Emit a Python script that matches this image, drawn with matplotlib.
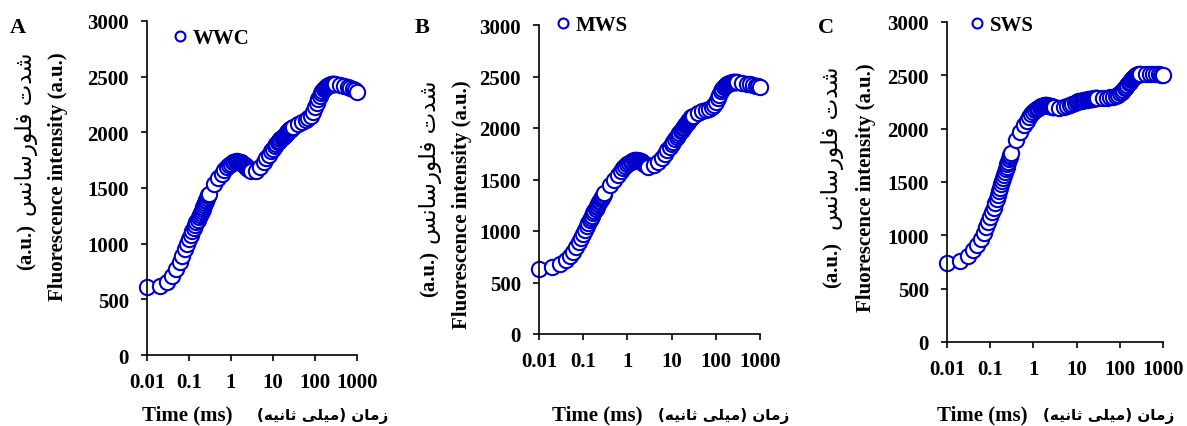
import matplotlib
matplotlib.use("Agg")
import matplotlib.pyplot as plt

# time points (ms) of the fast fluorescence record
time_ms = [0.01, 0.02, 0.03, 0.04, 0.05, 0.06, 0.07, 0.08, 0.09, 0.10,
           0.11, 0.12, 0.13, 0.14, 0.15, 0.16, 0.17, 0.18, 0.19, 0.20,
           0.21, 0.22, 0.23, 0.24, 0.25, 0.26, 0.27, 0.28, 0.29, 0.30,
           0.4, 0.5, 0.6, 0.7, 0.8, 0.9, 1.0, 1.1, 1.2, 1.3, 1.4, 1.5, 1.6, 1.7,
           1.8, 1.9, 2.0, 2.1, 2.2, 2.3, 2.4, 2.5, 2.6, 2.7, 2.8, 2.9, 3.0,
           4, 5, 6, 7, 8, 9, 10, 11, 12, 13, 14, 15, 16, 17, 18, 19, 20,
           21, 22, 23, 24, 25, 26, 27, 28, 29, 30,
           40, 50, 60, 70, 80, 90, 100, 110, 120, 130, 140, 150, 160, 170,
           180, 190, 200, 210, 220, 230, 240, 250, 260, 270, 280, 290, 300,
           400, 500, 600, 700, 800, 900, 1000]

wwc = [610, 620, 660, 712, 770, 832, 890, 948, 998, 1042,
       1080, 1112, 1142, 1168, 1192, 1215, 1237, 1258, 1278, 1296,
       1314, 1331, 1348, 1364, 1380, 1395, 1410, 1424, 1437, 1450,
       1535, 1590, 1630, 1660, 1685, 1705, 1720, 1730, 1737, 1740, 1740, 1738, 1735, 1730,
       1725, 1718, 1711, 1704, 1697, 1690, 1684, 1678, 1673, 1668, 1664, 1660, 1657,
       1650, 1690, 1730, 1768, 1800, 1828, 1852, 1873, 1892, 1909, 1924, 1938, 1950, 1961,
       1971, 1980, 1989, 1997, 2004, 2011, 2017, 2023, 2029, 2034, 2039, 2043, 2047,
       2075, 2095, 2110, 2125, 2150, 2185, 2225, 2265, 2300, 2330, 2355, 2373, 2387, 2398,
       2406, 2413, 2418, 2422, 2425, 2428, 2430, 2432, 2433, 2434, 2435, 2435, 2435,
       2425, 2418, 2410, 2400, 2390, 2378, 2365]

mws = [627, 650, 680, 715, 755, 800, 845, 890, 935, 975,
       1012, 1045, 1075, 1102, 1127, 1150, 1172, 1192, 1211, 1229,
       1246, 1262, 1277, 1292, 1306, 1319, 1332, 1344, 1355, 1365,
       1445, 1500, 1545, 1580, 1610, 1632, 1650, 1664, 1674, 1681, 1686, 1688, 1688, 1687,
       1684, 1680, 1675, 1670, 1664, 1658, 1652, 1647, 1642, 1637, 1633, 1629, 1626,
       1636, 1670, 1710, 1748, 1782, 1812, 1840, 1866, 1890, 1912, 1932, 1951, 1968, 1984,
       1999, 2013, 2026, 2038, 2050, 2060, 2070, 2079, 2088, 2096, 2104, 2111, 2118,
       2150, 2165, 2175, 2185, 2200, 2225, 2255, 2290, 2325, 2355, 2378, 2395, 2408, 2418,
       2426, 2432, 2436, 2439, 2441, 2443, 2444, 2445, 2445, 2445, 2445, 2444, 2444,
       2435, 2430, 2424, 2418, 2411, 2403, 2396]

sws = [741, 756, 806, 858, 912, 968, 1023, 1075, 1125, 1172,
       1217, 1260, 1301, 1340, 1377, 1412, 1446, 1478, 1508, 1537,
       1565, 1592, 1618, 1643, 1667, 1690, 1712, 1734, 1755, 1775,
       1890, 1970, 2030, 2075, 2108, 2135, 2155, 2172, 2185, 2195, 2203, 2209, 2213, 2216,
       2218, 2219, 2219, 2218, 2217, 2215, 2213, 2211, 2209, 2207, 2205, 2203, 2202,
       2198, 2205, 2215, 2225, 2235, 2243, 2250, 2255, 2259, 2263, 2266, 2269, 2271, 2273,
       2275, 2277, 2278, 2279, 2280, 2281, 2282, 2283, 2284, 2285, 2286, 2287, 2288,
       2290, 2292, 2295, 2300, 2308, 2318, 2330, 2345, 2360, 2378, 2395, 2412, 2428, 2442,
       2455, 2466, 2475, 2483, 2490, 2495, 2499, 2503, 2506, 2508, 2510, 2511, 2512,
       2515, 2515, 2513, 2511, 2508, 2504, 2500]

panels = ["A", "B", "C"]
series_names = ["WWC", "MWS", "SWS"]
x_ticks = [0.01, 0.1, 1, 10, 100, 1000]
x_ticklabels = ["0.01", "0.1", "1", "10", "100", "1000"]
y_ticks = [0, 500, 1000, 1500, 2000, 2500, 3000]

# Arabic letter forms: isolated, final, initial, medial
FORMS = {
    "ا": ("\uFE8D", "\uFE8E", None, None),
    "ت": ("\uFE95", "\uFE96", "\uFE97", "\uFE98"),
    "ث": ("\uFE99", "\uFE9A", "\uFE9B", "\uFE9C"),
    "د": ("\uFEA9", "\uFEAA", None, None),
    "ر": ("\uFEAD", "\uFEAE", None, None),
    "ز": ("\uFEAF", "\uFEB0", None, None),
    "س": ("\uFEB1", "\uFEB2", "\uFEB3", "\uFEB4"),
    "ش": ("\uFEB5", "\uFEB6", "\uFEB7", "\uFEB8"),
    "ف": ("\uFED1", "\uFED2", "\uFED3", "\uFED4"),
    "ل": ("\uFEDD", "\uFEDE", "\uFEDF", "\uFEE0"),
    "م": ("\uFEE1", "\uFEE2", "\uFEE3", "\uFEE4"),
    "ن": ("\uFEE5", "\uFEE6", "\uFEE7", "\uFEE8"),
    "ه": ("\uFEE9", "\uFEEA", "\uFEEB", "\uFEEC"),
    "و": ("\uFEED", "\uFEEE", None, None),
    "ی": ("\uFBFC", "\uFBFD", "\uFBFE", "\uFBFF"),
}


def farsi(s):
    # shape letters and put them in visual (left to right) order
    out = []
    for i, ch in enumerate(s):
        if ch not in FORMS:
            out.append(ch)
            continue
        prev = s[i - 1] if i > 0 else ""
        nxt = s[i + 1] if i + 1 < len(s) else ""
        jp = prev in FORMS and FORMS[prev][2] is not None
        jn = FORMS[ch][2] is not None and nxt in FORMS
        idx = 3 if (jp and jn) else 1 if jp else 2 if jn else 0
        out.append(FORMS[ch][idx])
    return "".join(out)[::-1].translate(str.maketrans("()", ")("))


serif = dict(family="Liberation Serif", weight="bold")

W, H = 1187, 427
fig = plt.figure(figsize=(W / 100, H / 100), dpi=100)

# axes boxes in pixels: left, right, bottom(y of 0), top(y of 3000)
boxes = [(147, 357, 356, 22), (539, 760, 335, 26), (947, 1163, 343, 23)]
letter_pos = [(18, 28), (422, 28), (826, 28)]
legend_pos = [(170, 39), (553, 26), (967, 26)]
ylab_en = [(58, 52), (462, 80), (866, 63)]
ylab_fa = [(27, 53, 270), (430, 80, 297), (833, 67, 288)]
xlab_en = [(142, 415), (552, 415), (937, 415)]
xlab_fa = [(257, 416), (658, 416), (1043, 416)]

for k, series in enumerate([wwc, mws, sws]):
    l, r, b, t = boxes[k]
    ax = fig.add_axes([l / W, 1 - b / H, (r - l) / W, (b - t) / H])
    ax.plot(time_ms, series, "o", ms=11, mfc="white", mec="#0000CC",
            mew=1.5, clip_on=False, label=series_names[k])
    ax.set_xscale("log")
    ax.set_xlim(0.01, 1000)
    ax.set_ylim(0, 3000)
    ax.set_xticks(x_ticks)
    ax.set_xticklabels(x_ticklabels)
    ax.xaxis.set_minor_locator(matplotlib.ticker.NullLocator())
    ax.set_yticks(y_ticks)
    for s in ["top", "right"]:
        ax.spines[s].set_visible(False)
    for s in ["left", "bottom"]:
        ax.spines[s].set_linewidth(1.2)
    ax.tick_params(direction="out", length=4, width=1.2, labelsize=15)
    ax.tick_params(axis="x", pad=8)
    ax.tick_params(axis="y", pad=9)
    for lab in ax.get_xticklabels() + ax.get_yticklabels():
        lab.set_fontfamily("Liberation Serif")
        lab.set_fontweight("bold")

    lx, ly = legend_pos[k]
    ax.legend(loc="center left", bbox_to_anchor=(lx / W, 1 - ly / H),
              bbox_transform=fig.transFigure, frameon=False, handlelength=1,
              handletextpad=0.1, borderpad=0, borderaxespad=0, markerscale=0.65,
              prop=dict(family="Liberation Serif", weight="bold", size=15))

    px, py = letter_pos[k]
    fig.text(px / W, 1 - py / H, panels[k], ha="center", va="center", size=16, **serif)

    ex, ey = ylab_en[k]
    fig.text(ex / W, 1 - ey / H, "Fluorescence intensity (a.u.)", rotation=90,
             ha="center", va="top", size=15, **serif)
    fx, fy_top, fy_bot = ylab_fa[k]
    fig.text(fx / W, 1 - fy_top / H, farsi("شدت فلورسانس"), rotation=90,
             ha="center", va="top", size=16.5, family="DejaVu Sans")
    fig.text(fx / W, 1 - fy_bot / H, "(a.u.)", rotation=90,
             ha="center", va="bottom", size=15, **serif)

    tx, ty = xlab_en[k]
    fig.text(tx / W, 1 - ty / H, "Time (ms)", ha="left", va="center", size=15, **serif)
    fx2, fy2 = xlab_fa[k]
    fig.text(fx2 / W, 1 - fy2 / H, farsi("زمان (میلی ثانیه)"), ha="left",
             va="center", size=11, family="DejaVu Sans", weight="bold")

fig.savefig("out.png", dpi=100)
